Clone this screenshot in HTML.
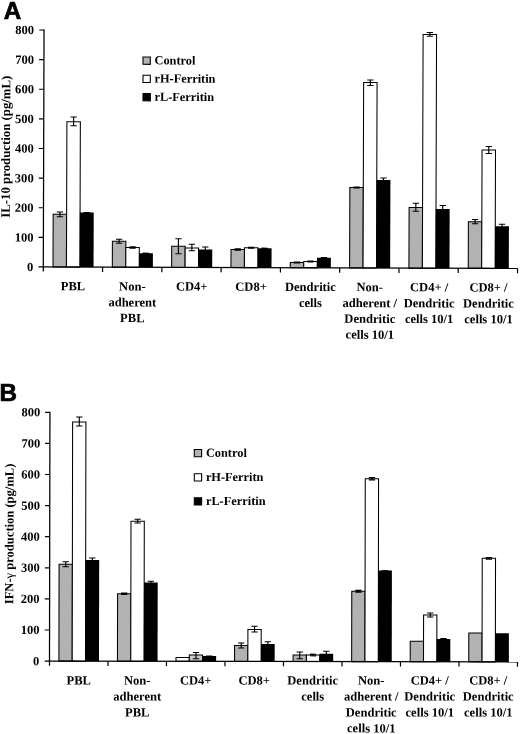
<!DOCTYPE html>
<html><head><meta charset="utf-8"><title>Figure</title>
<style>html,body{margin:0;padding:0;background:#fff}</style></head>
<body>
<svg width="520" height="734" viewBox="0 0 520 734" style="display:block;font-family:'Liberation Serif', serif;font-weight:bold;font-size:12.55px" fill="#000">
<rect width="520" height="734" fill="#fff"/>
<text x="3.8" y="19.1" style="font-family:'Liberation Sans',sans-serif;font-size:24.2px" stroke="#000" stroke-width="0.7">A</text>
<text x="-0.45" y="401.25" style="font-family:'Liberation Sans',sans-serif;font-size:24.2px" stroke="#000" stroke-width="0.7">B</text>
<g transform="rotate(0.18 43.3 267)">
<rect x="53.00" y="214.20" width="13.45" height="52.80" fill="#b2b2b2" stroke="#000" stroke-width="1.05"/>
<rect x="66.45" y="121.66" width="13.45" height="145.34" fill="#fff" stroke="#000" stroke-width="1.05"/>
<rect x="79.70" y="212.36" width="13.85" height="54.64" fill="#000"/>
<path d="M59.73 211.95V216.70M56.58 211.95H62.88M56.58 216.70H62.88" stroke="#000" stroke-width="1.15" fill="none"/>
<path d="M73.17 116.91V125.66M70.02 116.91H76.33M70.02 125.66H76.33" stroke="#000" stroke-width="1.15" fill="none"/>
<path d="M86.62 212.36V213.36M83.47 212.36H89.78M83.47 213.36H89.78" stroke="#000" stroke-width="1.15" fill="none"/>
<rect x="112.32" y="241.01" width="13.45" height="25.99" fill="#b2b2b2" stroke="#000" stroke-width="1.05"/>
<rect x="125.77" y="247.22" width="13.45" height="19.78" fill="#fff" stroke="#000" stroke-width="1.05"/>
<rect x="139.02" y="252.93" width="13.85" height="14.07" fill="#000"/>
<path d="M119.04 239.01V243.01M115.89 239.01H122.19M115.89 243.01H122.19" stroke="#000" stroke-width="1.15" fill="none"/>
<path d="M132.50 246.52V247.92M129.34 246.52H135.65M129.34 247.92H135.65" stroke="#000" stroke-width="1.15" fill="none"/>
<path d="M145.94 252.88V253.98M142.79 252.88H149.09M142.79 253.98H149.09" stroke="#000" stroke-width="1.15" fill="none"/>
<rect x="171.64" y="245.83" width="13.45" height="21.17" fill="#b2b2b2" stroke="#000" stroke-width="1.05"/>
<rect x="185.09" y="247.53" width="13.45" height="19.47" fill="#fff" stroke="#000" stroke-width="1.05"/>
<rect x="198.34" y="248.99" width="13.85" height="18.01" fill="#000"/>
<path d="M178.36 238.33V253.33M175.21 238.33H181.51M175.21 253.33H181.51" stroke="#000" stroke-width="1.15" fill="none"/>
<path d="M191.81 243.78V250.28M188.66 243.78H194.96M188.66 250.28H194.96" stroke="#000" stroke-width="1.15" fill="none"/>
<path d="M205.26 246.49V252.49M202.11 246.49H208.41M202.11 252.49H208.41" stroke="#000" stroke-width="1.15" fill="none"/>
<rect x="230.96" y="248.89" width="13.45" height="18.11" fill="#b2b2b2" stroke="#000" stroke-width="1.05"/>
<rect x="244.41" y="247.10" width="13.45" height="19.90" fill="#fff" stroke="#000" stroke-width="1.05"/>
<rect x="257.66" y="247.55" width="13.85" height="19.45" fill="#000"/>
<path d="M237.69 248.19V249.59M234.53 248.19H240.84M234.53 249.59H240.84" stroke="#000" stroke-width="1.15" fill="none"/>
<path d="M251.13 246.65V247.55M247.98 246.65H254.28M247.98 247.55H254.28" stroke="#000" stroke-width="1.15" fill="none"/>
<path d="M264.59 247.50V248.60M261.44 247.50H267.74M261.44 248.60H267.74" stroke="#000" stroke-width="1.15" fill="none"/>
<rect x="290.28" y="261.70" width="13.45" height="5.30" fill="#b2b2b2" stroke="#000" stroke-width="1.05"/>
<rect x="303.73" y="260.66" width="13.45" height="6.34" fill="#fff" stroke="#000" stroke-width="1.05"/>
<rect x="316.98" y="256.87" width="13.85" height="10.13" fill="#000"/>
<path d="M297.00 261.20V262.20M293.86 261.20H300.15M293.86 262.20H300.15" stroke="#000" stroke-width="1.15" fill="none"/>
<path d="M310.45 260.26V261.06M307.31 260.26H313.60M307.31 261.06H313.60" stroke="#000" stroke-width="1.15" fill="none"/>
<path d="M323.90 256.62V258.12M320.75 256.62H327.05M320.75 258.12H327.05" stroke="#000" stroke-width="1.15" fill="none"/>
<rect x="349.60" y="186.52" width="13.45" height="80.48" fill="#b2b2b2" stroke="#000" stroke-width="1.05"/>
<rect x="363.05" y="81.47" width="13.45" height="185.53" fill="#fff" stroke="#000" stroke-width="1.05"/>
<rect x="376.30" y="178.93" width="13.85" height="88.07" fill="#000"/>
<path d="M356.33 186.12V186.92M353.18 186.12H359.48M353.18 186.92H359.48" stroke="#000" stroke-width="1.15" fill="none"/>
<path d="M369.78 78.97V84.47M366.63 78.97H372.93M366.63 84.47H372.93" stroke="#000" stroke-width="1.15" fill="none"/>
<path d="M383.23 176.93V181.93M380.08 176.93H386.38M380.08 181.93H386.38" stroke="#000" stroke-width="1.15" fill="none"/>
<rect x="408.92" y="206.33" width="13.45" height="60.67" fill="#b2b2b2" stroke="#000" stroke-width="1.05"/>
<rect x="422.37" y="33.29" width="13.45" height="233.71" fill="#fff" stroke="#000" stroke-width="1.05"/>
<rect x="435.62" y="207.75" width="13.85" height="59.25" fill="#000"/>
<path d="M415.65 202.08V210.08M412.50 202.08H418.80M412.50 210.08H418.80" stroke="#000" stroke-width="1.15" fill="none"/>
<path d="M429.10 31.29V35.04M425.95 31.29H432.25M425.95 35.04H432.25" stroke="#000" stroke-width="1.15" fill="none"/>
<path d="M442.55 204.25V212.25M439.40 204.25H445.69M439.40 212.25H445.69" stroke="#000" stroke-width="1.15" fill="none"/>
<rect x="468.24" y="220.39" width="13.45" height="46.61" fill="#b2b2b2" stroke="#000" stroke-width="1.05"/>
<rect x="481.69" y="148.60" width="13.45" height="118.40" fill="#fff" stroke="#000" stroke-width="1.05"/>
<rect x="494.94" y="224.81" width="13.85" height="42.19" fill="#000"/>
<path d="M474.97 218.14V222.39M471.82 218.14H478.12M471.82 222.39H478.12" stroke="#000" stroke-width="1.15" fill="none"/>
<path d="M488.42 145.10V152.10M485.27 145.10H491.56M485.27 152.10H491.56" stroke="#000" stroke-width="1.15" fill="none"/>
<path d="M501.87 222.81V227.81M498.72 222.81H505.01M498.72 227.81H505.01" stroke="#000" stroke-width="1.15" fill="none"/>
<path d="M43.3 29.4V271.6" stroke="#000" stroke-width="1.25" fill="none"/>
<path d="M38.5 267H517.6" stroke="#000" stroke-width="1.25" fill="none"/>
<path d="M38.5 237.38H43.3" stroke="#000" stroke-width="1.2" fill="none"/>
<path d="M38.5 207.75H43.3" stroke="#000" stroke-width="1.2" fill="none"/>
<path d="M38.5 178.12H43.3" stroke="#000" stroke-width="1.2" fill="none"/>
<path d="M38.5 148.50H43.3" stroke="#000" stroke-width="1.2" fill="none"/>
<path d="M38.5 118.88H43.3" stroke="#000" stroke-width="1.2" fill="none"/>
<path d="M38.5 89.25H43.3" stroke="#000" stroke-width="1.2" fill="none"/>
<path d="M38.5 59.62H43.3" stroke="#000" stroke-width="1.2" fill="none"/>
<path d="M38.5 30.00H43.3" stroke="#000" stroke-width="1.2" fill="none"/>
<text x="33.40" y="271.10" text-anchor="end">0</text>
<text x="33.40" y="241.47" text-anchor="end">100</text>
<text x="33.40" y="211.85" text-anchor="end">200</text>
<text x="33.40" y="182.22" text-anchor="end">300</text>
<text x="33.40" y="152.60" text-anchor="end">400</text>
<text x="33.40" y="122.97" text-anchor="end">500</text>
<text x="33.40" y="93.35" text-anchor="end">600</text>
<text x="33.40" y="63.73" text-anchor="end">700</text>
<text x="33.40" y="34.10" text-anchor="end">800</text>
<path d="M102.58 267V271.8" stroke="#000" stroke-width="1.2" fill="none"/>
<path d="M161.86 267V271.8" stroke="#000" stroke-width="1.2" fill="none"/>
<path d="M221.14 267V271.8" stroke="#000" stroke-width="1.2" fill="none"/>
<path d="M280.42 267V271.8" stroke="#000" stroke-width="1.2" fill="none"/>
<path d="M339.70 267V271.8" stroke="#000" stroke-width="1.2" fill="none"/>
<path d="M398.98 267V271.8" stroke="#000" stroke-width="1.2" fill="none"/>
<path d="M458.26 267V271.8" stroke="#000" stroke-width="1.2" fill="none"/>
<path d="M517.54 267V271.8" stroke="#000" stroke-width="1.2" fill="none"/>
<text x="73.05" y="290.15" text-anchor="middle">PBL</text>
<text x="132.41" y="290.15" text-anchor="middle">Non-</text>
<text x="132.46" y="306.15" text-anchor="middle">adherent</text>
<text x="132.51" y="321.85" text-anchor="middle">PBL</text>
<text x="191.77" y="290.15" text-anchor="middle">CD4+</text>
<text x="251.13" y="290.15" text-anchor="middle">CD8+</text>
<text x="310.49" y="290.15" text-anchor="middle">Dendritic</text>
<text x="310.54" y="306.15" text-anchor="middle">cells</text>
<text x="369.85" y="290.15" text-anchor="middle">Non-</text>
<text x="369.90" y="306.15" text-anchor="middle">adherent /</text>
<text x="369.95" y="321.85" text-anchor="middle">Dendritic</text>
<text x="370.00" y="337.65" text-anchor="middle">cells 10/1</text>
<text x="429.21" y="290.15" text-anchor="middle">CD4+ /</text>
<text x="429.26" y="306.15" text-anchor="middle">Dendritic</text>
<text x="429.31" y="321.85" text-anchor="middle">cells 10/1</text>
<text x="488.57" y="290.15" text-anchor="middle">CD8+ /</text>
<text x="488.62" y="306.15" text-anchor="middle">Dendritic</text>
<text x="488.67" y="321.85" text-anchor="middle">cells 10/1</text>
<rect x="142.36" y="56.69" width="7.3" height="7.3" fill="#b2b2b2" stroke="#000" stroke-width="1.1"/>
<text x="153.86" y="63.99" font-size="12.35">Control</text>
<rect x="142.42" y="74.89" width="7.3" height="7.3" fill="#fff" stroke="#000" stroke-width="1.1"/>
<text x="153.92" y="82.19" font-size="12.35">rH-Ferritin</text>
<rect x="142.48" y="93.19" width="7.3" height="7.3" fill="#000" stroke="#000" stroke-width="1.1"/>
<text x="153.98" y="100.49" font-size="12.35">rL-Ferritin</text>
<text transform="translate(9.6,146.8) rotate(-90)" text-anchor="middle" font-size="12.8">IL-10 production (pg/mL)</text>
</g>
<g transform="rotate(0.1 49.5 661.1)">
<rect x="58.90" y="564.22" width="13.30" height="96.88" fill="#b2b2b2" stroke="#000" stroke-width="1.05"/>
<rect x="72.20" y="421.95" width="13.30" height="239.15" fill="#fff" stroke="#000" stroke-width="1.05"/>
<rect x="85.30" y="559.93" width="13.70" height="101.17" fill="#000"/>
<path d="M65.55 561.72V566.72M62.40 561.72H68.70M62.40 566.72H68.70" stroke="#000" stroke-width="1.15" fill="none"/>
<path d="M78.85 416.95V425.95M75.70 416.95H82.00M75.70 425.95H82.00" stroke="#000" stroke-width="1.15" fill="none"/>
<path d="M92.15 557.93V562.93M89.00 557.93H95.30M89.00 562.93H95.30" stroke="#000" stroke-width="1.15" fill="none"/>
<rect x="117.45" y="593.62" width="13.30" height="67.48" fill="#b2b2b2" stroke="#000" stroke-width="1.05"/>
<rect x="130.75" y="521.10" width="13.30" height="140.00" fill="#fff" stroke="#000" stroke-width="1.05"/>
<rect x="143.85" y="582.32" width="13.70" height="78.78" fill="#000"/>
<path d="M124.10 592.97V594.27M120.95 592.97H127.25M120.95 594.27H127.25" stroke="#000" stroke-width="1.15" fill="none"/>
<path d="M137.40 519.10V522.85M134.25 519.10H140.55M134.25 522.85H140.55" stroke="#000" stroke-width="1.15" fill="none"/>
<path d="M150.70 581.07V584.57M147.55 581.07H153.85M147.55 584.57H153.85" stroke="#000" stroke-width="1.15" fill="none"/>
<rect x="176.00" y="657.27" width="13.30" height="3.83" fill="#fff" stroke="#000" stroke-width="1.05"/>
<rect x="189.30" y="654.74" width="13.30" height="6.36" fill="#c8c8c8" stroke="#000" stroke-width="1.05"/>
<rect x="202.40" y="655.82" width="13.70" height="5.28" fill="#000"/>
<path d="M195.95 652.24V658.49M192.80 652.24H199.10M192.80 658.49H199.10" stroke="#000" stroke-width="1.15" fill="none"/>
<path d="M209.25 655.82V656.82M206.10 655.82H212.40M206.10 656.82H212.40" stroke="#000" stroke-width="1.15" fill="none"/>
<rect x="234.55" y="645.17" width="13.30" height="15.93" fill="#b2b2b2" stroke="#000" stroke-width="1.05"/>
<rect x="247.85" y="629.14" width="13.30" height="31.96" fill="#fff" stroke="#000" stroke-width="1.05"/>
<rect x="260.95" y="643.62" width="13.70" height="17.48" fill="#000"/>
<path d="M241.20 642.67V647.67M238.05 642.67H244.35M238.05 647.67H244.35" stroke="#000" stroke-width="1.15" fill="none"/>
<path d="M254.50 625.89V631.64M251.35 625.89H257.65M251.35 631.64H257.65" stroke="#000" stroke-width="1.15" fill="none"/>
<path d="M267.80 641.37V646.87M264.65 641.37H270.95M264.65 646.87H270.95" stroke="#000" stroke-width="1.15" fill="none"/>
<rect x="293.10" y="654.56" width="13.30" height="6.54" fill="#b2b2b2" stroke="#000" stroke-width="1.05"/>
<rect x="306.40" y="654.54" width="13.30" height="6.56" fill="#fff" stroke="#000" stroke-width="1.05"/>
<rect x="319.50" y="653.27" width="13.70" height="7.83" fill="#000"/>
<path d="M299.75 651.56V658.31M296.60 651.56H302.90M296.60 658.31H302.90" stroke="#000" stroke-width="1.15" fill="none"/>
<path d="M313.05 653.74V655.34M309.90 653.74H316.20M309.90 655.34H316.20" stroke="#000" stroke-width="1.15" fill="none"/>
<path d="M326.35 650.77V656.77M323.20 650.77H329.50M323.20 656.77H329.50" stroke="#000" stroke-width="1.15" fill="none"/>
<rect x="351.65" y="590.71" width="13.30" height="70.39" fill="#b2b2b2" stroke="#000" stroke-width="1.05"/>
<rect x="364.95" y="478.19" width="13.30" height="182.91" fill="#fff" stroke="#000" stroke-width="1.05"/>
<rect x="378.05" y="570.01" width="13.70" height="91.09" fill="#000"/>
<path d="M358.30 589.86V591.56M355.15 589.86H361.45M355.15 591.56H361.45" stroke="#000" stroke-width="1.15" fill="none"/>
<path d="M371.60 477.04V479.34M368.45 477.04H374.75M368.45 479.34H374.75" stroke="#000" stroke-width="1.15" fill="none"/>
<path d="M384.90 570.11V570.91M381.75 570.11H388.05M381.75 570.91H388.05" stroke="#000" stroke-width="1.15" fill="none"/>
<rect x="410.20" y="640.61" width="13.30" height="20.49" fill="#b2b2b2" stroke="#000" stroke-width="1.05"/>
<rect x="423.50" y="614.34" width="13.30" height="46.76" fill="#fff" stroke="#000" stroke-width="1.05"/>
<rect x="436.60" y="638.31" width="13.70" height="22.79" fill="#000"/>
<path d="M430.15 612.34V616.34M427.00 612.34H433.30M427.00 616.34H433.30" stroke="#000" stroke-width="1.15" fill="none"/>
<path d="M443.45 637.81V639.81M440.30 637.81H446.60M440.30 639.81H446.60" stroke="#000" stroke-width="1.15" fill="none"/>
<rect x="468.75" y="632.26" width="13.30" height="28.84" fill="#b2b2b2" stroke="#000" stroke-width="1.05"/>
<rect x="482.05" y="557.53" width="13.30" height="103.57" fill="#fff" stroke="#000" stroke-width="1.05"/>
<rect x="495.15" y="632.46" width="13.70" height="28.64" fill="#000"/>
<path d="M488.70 556.73V558.33M485.55 556.73H491.85M485.55 558.33H491.85" stroke="#000" stroke-width="1.15" fill="none"/>
<path d="M49.5 411.79999999999995V665.7" stroke="#000" stroke-width="1.25" fill="none"/>
<path d="M44.7 661.1H518" stroke="#000" stroke-width="1.25" fill="none"/>
<path d="M44.7 630.00H49.5" stroke="#000" stroke-width="1.2" fill="none"/>
<path d="M44.7 598.90H49.5" stroke="#000" stroke-width="1.2" fill="none"/>
<path d="M44.7 567.80H49.5" stroke="#000" stroke-width="1.2" fill="none"/>
<path d="M44.7 536.70H49.5" stroke="#000" stroke-width="1.2" fill="none"/>
<path d="M44.7 505.60H49.5" stroke="#000" stroke-width="1.2" fill="none"/>
<path d="M44.7 474.50H49.5" stroke="#000" stroke-width="1.2" fill="none"/>
<path d="M44.7 443.40H49.5" stroke="#000" stroke-width="1.2" fill="none"/>
<path d="M44.7 412.30H49.5" stroke="#000" stroke-width="1.2" fill="none"/>
<text x="39.40" y="665.20" text-anchor="end">0</text>
<text x="39.47" y="634.10" text-anchor="end">100</text>
<text x="39.54" y="603.00" text-anchor="end">200</text>
<text x="39.61" y="571.90" text-anchor="end">300</text>
<text x="39.68" y="540.80" text-anchor="end">400</text>
<text x="39.75" y="509.70" text-anchor="end">500</text>
<text x="39.82" y="478.60" text-anchor="end">600</text>
<text x="39.89" y="447.50" text-anchor="end">700</text>
<text x="39.96" y="416.40" text-anchor="end">800</text>
<path d="M108.00 661.1V665.9" stroke="#000" stroke-width="1.2" fill="none"/>
<path d="M166.50 661.1V665.9" stroke="#000" stroke-width="1.2" fill="none"/>
<path d="M225.00 661.1V665.9" stroke="#000" stroke-width="1.2" fill="none"/>
<path d="M283.50 661.1V665.9" stroke="#000" stroke-width="1.2" fill="none"/>
<path d="M342.00 661.1V665.9" stroke="#000" stroke-width="1.2" fill="none"/>
<path d="M400.50 661.1V665.9" stroke="#000" stroke-width="1.2" fill="none"/>
<path d="M459.00 661.1V665.9" stroke="#000" stroke-width="1.2" fill="none"/>
<path d="M517.50 661.1V665.9" stroke="#000" stroke-width="1.2" fill="none"/>
<text x="78.79" y="684.50" text-anchor="middle">PBL</text>
<text x="137.29" y="684.40" text-anchor="middle">Non-</text>
<text x="137.32" y="700.40" text-anchor="middle">adherent</text>
<text x="137.35" y="716.35" text-anchor="middle">PBL</text>
<text x="195.79" y="684.29" text-anchor="middle">CD4+</text>
<text x="254.29" y="684.19" text-anchor="middle">CD8+</text>
<text x="312.79" y="684.09" text-anchor="middle">Dendritic</text>
<text x="312.82" y="700.09" text-anchor="middle">cells</text>
<text x="371.29" y="683.99" text-anchor="middle">Non-</text>
<text x="371.32" y="699.99" text-anchor="middle">adherent /</text>
<text x="371.35" y="715.94" text-anchor="middle">Dendritic</text>
<text x="371.37" y="731.84" text-anchor="middle">cells 10/1</text>
<text x="429.79" y="683.89" text-anchor="middle">CD4+ /</text>
<text x="429.82" y="699.89" text-anchor="middle">Dendritic</text>
<text x="429.85" y="715.84" text-anchor="middle">cells 10/1</text>
<text x="488.29" y="683.78" text-anchor="middle">CD8+ /</text>
<text x="488.32" y="699.78" text-anchor="middle">Dendritic</text>
<text x="488.35" y="715.73" text-anchor="middle">cells 10/1</text>
<rect x="193.94" y="449.25" width="7.3" height="7.3" fill="#b2b2b2" stroke="#000" stroke-width="1.1"/>
<text x="205.54" y="456.55" font-size="12.35">Control</text>
<rect x="193.99" y="473.45" width="7.3" height="7.3" fill="#fff" stroke="#000" stroke-width="1.1"/>
<text x="205.59" y="480.75" font-size="12.35">rH-Ferritn</text>
<rect x="194.03" y="497.45" width="7.3" height="7.3" fill="#000" stroke="#000" stroke-width="1.1"/>
<text x="205.63" y="504.75" font-size="12.35">rL-Ferritin</text>
<text transform="translate(13.2,534) rotate(-90)" text-anchor="middle">IFN-<tspan font-weight="normal">γ</tspan> production (pg/mL)</text>
</g>
</svg>
</body></html>
